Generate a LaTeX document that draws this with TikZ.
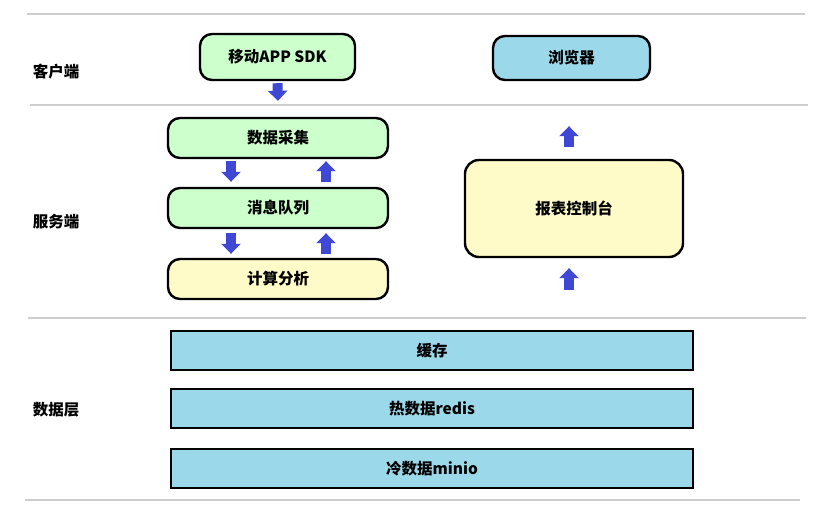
\documentclass[tikz,border=0pt]{standalone}
\usepackage{fontspec}
\setmainfont{Noto Sans CJK SC}
\usetikzlibrary{arrows.meta,calc}
\definecolor{gfill}{RGB}{204,255,204}
\definecolor{yfill}{RGB}{255,251,200}
\definecolor{bfill}{RGB}{155,217,234}
\definecolor{arrblue}{RGB}{62,72,212}
\definecolor{sepgray}{RGB}{205,205,205}
\begin{document}
\begin{tikzpicture}[x=1pt,y=-1pt,
  box/.style={draw=black,line width=2.4pt,rounded corners=12pt,inner sep=0pt,font=\fontsize{15.5}{17}\selectfont\bfseries},
  flatbox/.style={draw=black,line width=2.6pt,inner sep=0pt,font=\fontsize{15.5}{17}\selectfont\bfseries},
  lbl/.style={font=\fontsize{15.5}{17}\selectfont\bfseries,inner sep=0pt},
  sep/.style={draw=sepgray,line width=1.6pt},
  blk/.style={draw=arrblue,line width=10pt,-{Triangle[width=19pt,length=10pt,fill=arrblue]}}]
\useasboundingbox (0,0) rectangle (828,518);
% separators
\draw[sep] (27,14) -- (805,14);
\draw[sep] (30,105) -- (808,105);
\draw[sep] (28,318) -- (806,318);
\draw[sep] (25,500) -- (800,500);
% layer labels
\node[lbl] (l1) at (56,72) {客户端};
\node[lbl] (l2) at (56,222) {服务端};
\node[lbl] (l3) at (56,410) {数据层};
% client
\node[box,fill=gfill,minimum width=155pt,minimum height=46pt] (sdk) at (277.5,57) {移动APP SDK};
\node[box,fill=bfill,minimum width=157pt,minimum height=44pt] (br) at (571.5,58) {浏览器};
% server
\node[box,fill=gfill,minimum width=220pt,minimum height=40pt] (dc) at (278,138) {数据采集};
\node[box,fill=gfill,minimum width=220pt,minimum height=40pt] (mq) at (278,208) {消息队列};
\node[box,fill=yfill,minimum width=220pt,minimum height=40pt] (ca) at (278,279) {计算分析};
\node[box,fill=yfill,rounded corners=14pt,minimum width=218pt,minimum height=97pt] (rc) at (574,208.5) {报表控制台};
% data layer
\node[flatbox,fill=bfill,minimum width=522pt,minimum height=39pt] (cache) at (432,350.5) {缓存};
\node[flatbox,fill=bfill,minimum width=522pt,minimum height=39pt] (hot) at (432,408.5) {热数据redis};
\node[flatbox,fill=bfill,minimum width=522pt,minimum height=39pt] (cold) at (432,468.5) {冷数据minio};
% arrows
\draw[blk] ([yshift=-2pt]sdk.south) -- ([yshift=16pt]dc.north);
\draw[blk] ([xshift=-47pt,yshift=-2pt]dc.south) -- ([xshift=-47pt,yshift=5pt]mq.north);
\draw[blk] ([xshift=48pt,yshift=5pt]mq.north) -- ([xshift=48pt,yshift=-2pt]dc.south);
\draw[blk] ([xshift=-47pt,yshift=-4pt]mq.south) -- ([xshift=-47pt,yshift=4pt]ca.north);
\draw[blk] ([xshift=48pt,yshift=4pt]ca.north) -- ([xshift=48pt,yshift=-4pt]mq.south);
\draw[blk] ([xshift=-5pt,yshift=12pt]rc.north) -- ([xshift=-2.5pt,yshift=-45pt]br.south);
\coordinate (rcin) at (569,290);
\draw[blk] (rcin) -- ([xshift=-5pt,yshift=-10pt]rc.south);
\end{tikzpicture}
\end{document}
